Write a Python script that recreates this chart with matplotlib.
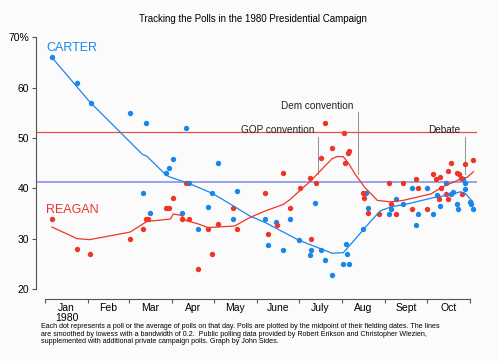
import matplotlib
matplotlib.use("Agg")
import matplotlib.pyplot as plt

plt.rcParams['font.family'] = ['Liberation Sans', 'DejaVu Sans']

# day of year 1980 (Jan 1 = 0) and poll share
carter_day = [5, 23, 33, 61, 72.5, 101, 92, 89, 87, 124, 103, 70, 120, 138, 75, 98, 117, 135, 110,
              158, 166, 176, 160, 171, 182, 191, 190, 198, 201, 206, 194, 216, 217, 214, 218, 228.5, 232, 230,
              248, 246.5, 257, 252, 263, 274.4, 267.3, 278.3, 266.3, 283.5, 281, 287.6, 291, 292.5,
              299.8, 301.5, 301.7, 295.5, 296.5, 305, 306, 307]
carter_pct = [66, 61, 57, 55, 53, 52, 45.8, 44, 43, 45, 41, 39, 39, 39.4, 35, 35, 36.2, 34, 32,
              34, 33.3, 34, 28.7, 27.7, 29.8, 27.7, 26.7, 27.7, 25.7, 22.7, 37, 29, 27, 25, 25, 32, 36, 39,
              35.8, 34.8, 36.9, 37.8, 40, 40, 34.8, 34.8, 32.8, 36.4, 38.6, 41, 38.8, 39.3,
              41.8, 41.1, 39.8, 36.9, 35.8, 37.3, 36.8, 35.8]

reagan_day = [5, 23, 32.5, 61, 70, 72.3, 74.2, 87, 89, 92, 98, 101, 103, 110, 117, 120, 124, 135, 138,
              158, 160, 166.3, 171, 176, 182.6, 190, 191.2, 194.3, 198, 201, 206, 214.4, 215.6, 217.3, 218,
              228.5, 229.2, 232,
              239.6, 246.5, 248.3, 251.8, 257.2, 263.2, 266.3, 267.3, 274.4, 278.3, 280.7, 283.6, 282.6,
              284.3, 287.4, 289, 289.3, 291.5, 295.5, 296.7, 298.6, 299, 301.5, 307]
reagan_pct = [34, 28, 27, 30, 32, 34, 34, 36, 36, 38, 34, 41, 34, 24, 32, 27, 33, 36, 32,
              39, 31, 32.8, 43, 36, 40, 42, 30, 41, 46, 53, 48, 51, 45, 47, 47.5,
              39, 38, 35,
              34.8, 41, 36.8, 34.8, 41, 35.8, 41.8, 40, 35.8, 42.8, 41.8, 42.2, 37.8,
              40, 38.8, 37.8, 43.4, 45.1, 43, 42.8, 42, 38.8, 44.8, 45.7]

# smoothed (lowess) lines
carter_line_day = [5, 32, 61, 70, 73, 87, 90, 103, 120, 128, 147, 158, 182, 206, 214, 216.6,
                   228.5, 233.5, 240.5, 248, 260, 278, 290, 298, 301.5, 307]
carter_line_pct = [66, 57.2, 49.2, 46.7, 46.4, 42.6, 42.2, 41, 39, 37.7, 34.5, 33.2, 29.7, 27.1, 27.2, 28,
                   31.8, 33.4, 35.5, 36.3, 36.9, 38.1, 38.7, 39.3, 39, 37.3]
reagan_line_day = [5, 23, 32, 61, 73, 90, 92, 98, 101, 109, 117, 136, 147, 158, 171, 176, 183, 190,
                   206, 209.4, 214, 217.7, 222.5, 227.3, 229, 238.5, 248, 257, 277, 286, 298, 303, 307.5]
reagan_line_pct = [32.3, 30, 29.8, 31.3, 33.4, 33.9, 34.9, 34.6, 33.6, 33, 32.2, 32.5, 34.2, 35.5, 36.8,
                   37.8, 39.6, 41.3, 45.9, 46.3, 46.3, 45, 42.8, 41, 40.3, 37.6, 37.3, 37.6, 38.9, 40.4,
                   41.8, 42.2, 43.3]

month_starts = [0, 31, 60, 91, 121, 152, 182, 213, 244, 274, 305]
month_labels = ['Jan\n1980', 'Feb', 'Mar', 'Apr', 'May', 'June', 'July', 'Aug', 'Sept', 'Oct']

events = ['GOP convention', 'Dem convention', 'Debate']
event_day = [196, 224.5, 301]
event_top = [50.2, 55.1, 50.2]

blue = '#1a86ec'
red = '#ee3526'

fig = plt.figure(figsize=(4.99, 3.61), dpi=100, facecolor='#fbfbfb')
ax = fig.add_axes([0.0721, 0.1717, 0.8839, 0.7388], facecolor='#fbfbfb')

ax.axhline(51.2, color='#ee4c4c', lw=0.9, zorder=1)
ax.axhline(41.3, color='#7d8cf0', lw=1.1, zorder=1)

for name, d, top in zip(events, event_day, event_top):
    ax.plot([d, d], [42.8, top], color='#808080', lw=0.6, zorder=1)
    ax.text(d - 3, top + 1.3, name, ha='right', va='center', fontsize=7.2, color='#222222')

ax.scatter(carter_day, carter_pct, s=15, color=blue, lw=0, zorder=3)
ax.scatter(reagan_day, reagan_pct, s=15, color=red, lw=0, zorder=3)
ax.plot(carter_line_day, carter_line_pct, color=blue, lw=0.9, zorder=4)
ax.plot(reagan_line_day, reagan_line_pct, color=red, lw=0.9, zorder=4)

ax.text(0.7, 67.9, 'CARTER', color=blue, fontsize=9, va='center', ha='left')
ax.text(0.7, 35.7, 'REAGAN', color=red, fontsize=9, va='center', ha='left')

ax.set_xlim(-6.5, 310)
ax.set_ylim(18, 71)
ax.spines['top'].set_visible(False)
ax.spines['right'].set_visible(False)
ax.spines['left'].set_bounds(20, 70)
ax.spines['bottom'].set_bounds(0, 305)
ax.spines['left'].set_color('#555555')
ax.spines['bottom'].set_color('#555555')

ax.set_yticks([20, 30, 40, 50, 60, 70])
ax.set_yticklabels(['20', '30', '40', '50', '60', '70%'])
ax.set_xticks(month_starts)
ax.set_xticklabels([])
mids = [(month_starts[i] + month_starts[i + 1]) / 2 for i in range(len(month_labels))]
ax.set_xticks(mids, minor=True)
ax.set_xticklabels(month_labels, minor=True)
ax.tick_params(axis='both', which='major', length=3, color='#555555', labelsize=7.5, pad=2)
ax.tick_params(axis='x', which='minor', length=0, labelsize=7.5, pad=3)
for lab in ax.get_xticklabels(minor=True):
    lab.set_linespacing(0.95)

fig.text(0.506, 0.947, 'Tracking the Polls in the 1980 Presidential Campaign',
         ha='center', va='center', fontsize=7)

note = ("Each dot represents a poll or the average of polls on that day. Polls are plotted by the midpoint of their fielding dates. The lines\n"
        "are smoothed by lowess with a bandwidth of 0.2.  Public polling data provided by Robert Erikson and Christopher Wlezien,\n"
        "supplemented with additional private campaign polls. Graph by John Sides.")
fig.text(0.082, 0.105, note, ha='left', va='top', fontsize=5.1, linespacing=1.1)

fig.savefig('out.png', dpi=100, facecolor=fig.get_facecolor())
